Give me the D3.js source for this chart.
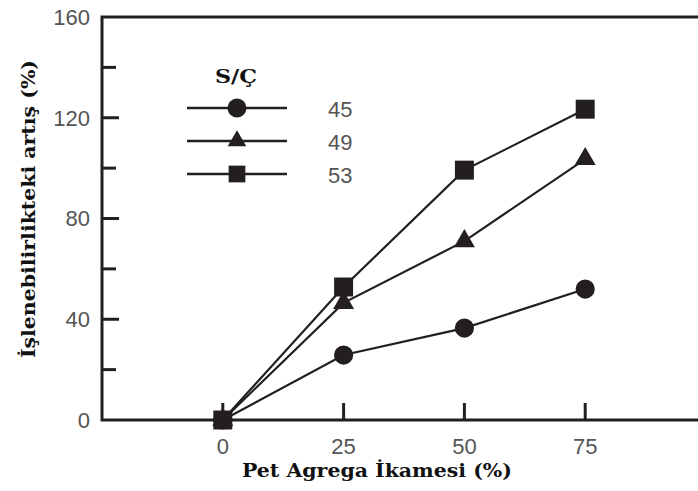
<html>
<head>
<meta charset="utf-8">
<script src="https://d3js.org/d3.v7.min.js"></script>
<style>
  body { margin: 0; background: #fff; }
</style>
</head>
<body>
<div id="chart"></div>
<script>
// data
var petLevels = [0, 25, 50, 75];
var seriesNames = ["45", "49", "53"];
var values45 = [0, 25.8, 36.5, 52.0];
var values49 = [0, 46.5, 71.0, 103.6];
var values53 = [0, 52.8, 99.2, 123.4];
var yTicks = [0, 40, 80, 120, 160];
var yMinorTicks = [20, 60, 100, 140];

var series = [
  { name: seriesNames[0], shape: d3.symbolCircle, values: values45 },
  { name: seriesNames[1], shape: d3.symbolTriangle, values: values49 },
  { name: seriesNames[2], shape: d3.symbolSquare, values: values53 }
];

var W = 698, H = 491;
var svg = d3.select("#chart").append("svg")
  .attr("width", W).attr("height", H);

var x = d3.scaleLinear().domain([-25, 100]).range([102, 706]);
var y = d3.scaleLinear().domain([0, 160]).range([420, 17]);

var ink = "#231f20";
var sans = "Liberation Sans, Arial, sans-serif";
var serif = "DejaVu Serif, Liberation Serif, serif";

// frame: left, top, bottom lines
svg.append("path")
  .attr("d", "M" + x(100) + "," + y(160) + "H" + x(-25) + "V" + y(0) + "H" + x(100))
  .attr("fill", "none").attr("stroke", ink).attr("stroke-width", 3);

// y ticks (inward)
svg.selectAll(".ymaj").data(yTicks.filter(function (d) { return d > 0 && d < 160; }))
  .enter().append("line")
  .attr("x1", x(-25)).attr("x2", x(-25) + 17)
  .attr("y1", function (d) { return y(d); }).attr("y2", function (d) { return y(d); })
  .attr("stroke", ink).attr("stroke-width", 3);
svg.selectAll(".ymin").data(yMinorTicks)
  .enter().append("line")
  .attr("x1", x(-25)).attr("x2", x(-25) + 14)
  .attr("y1", function (d) { return y(d); }).attr("y2", function (d) { return y(d); })
  .attr("stroke", ink).attr("stroke-width", 3);

svg.selectAll(".ylab").data(yTicks)
  .enter().append("text")
  .attr("x", 90).attr("y", function (d) { return y(d); })
  .attr("dy", "0.36em")
  .attr("text-anchor", "end")
  .style("font-family", sans)
  .style("font-size", "22px")
  .style("fill", "#555")
  .text(function (d) { return d; });

// x ticks (inward)
svg.selectAll(".xt").data(petLevels)
  .enter().append("line")
  .attr("x1", function (d) { return x(d); }).attr("x2", function (d) { return x(d); })
  .attr("y1", y(0)).attr("y2", y(0) - 17)
  .attr("stroke", ink).attr("stroke-width", 3);

svg.selectAll(".xlab").data(petLevels)
  .enter().append("text")
  .attr("x", function (d) { return x(d); }).attr("y", 454)
  .attr("text-anchor", "middle")
  .style("font-family", sans)
  .style("font-size", "22px")
  .style("fill", "#555")
  .text(function (d) { return d; });

// axis titles
svg.append("text")
  .attr("x", 377).attr("y", 477)
  .attr("text-anchor", "middle")
  .attr("textLength", 270)
  .attr("lengthAdjust", "spacingAndGlyphs")
  .style("font-family", serif)
  .style("font-weight", "bold")
  .style("font-size", "19px")
  .style("fill", "#111")
  .text("Pet Agrega İkamesi (%)");

svg.append("text")
  .attr("transform", "translate(35,209) rotate(-90)")
  .attr("text-anchor", "middle")
  .attr("textLength", 298)
  .attr("lengthAdjust", "spacingAndGlyphs")
  .style("font-family", serif)
  .style("font-weight", "bold")
  .style("font-size", "19px")
  .style("fill", "#111")
  .text("İşlenebilirlikteki artış (%)");

// lines
var line = d3.line()
  .x(function (d, i) { return x(petLevels[i]); })
  .y(function (d) { return y(d); });

svg.selectAll(".series").data(series)
  .enter().append("path")
  .attr("d", function (s) { return line(s.values); })
  .attr("fill", "none").attr("stroke", ink).attr("stroke-width", 2.2);

var sizes = { "45": 290, "49": 190, "53": 360 };

series.forEach(function (s) {
  svg.selectAll(null).data(s.values)
    .enter().append("path")
    .attr("transform", function (d, i) { return "translate(" + x(petLevels[i]) + "," + y(d) + ")"; })
    .attr("d", d3.symbol().type(s.shape).size(sizes[s.name]))
    .attr("fill", ink);
});

// legend
var legend = svg.append("g");
legend.append("text")
  .attr("x", 236).attr("y", 83)
  .attr("text-anchor", "middle")
  .attr("textLength", 42)
  .attr("lengthAdjust", "spacingAndGlyphs")
  .style("font-family", serif)
  .style("font-weight", "bold")
  .style("font-size", "19px")
  .style("fill", "#111")
  .text("S/Ç");

var legendY = [108, 141, 174];
series.forEach(function (s, i) {
  legend.append("line")
    .attr("x1", 187).attr("x2", 287)
    .attr("y1", legendY[i]).attr("y2", legendY[i])
    .attr("stroke", ink).attr("stroke-width", 2.5);
  legend.append("path")
    .attr("transform", "translate(237," + legendY[i] + ")")
    .attr("d", d3.symbol().type(s.shape).size(i === 1 ? 150 : 280))
    .attr("fill", ink);
  legend.append("text")
    .attr("x", 328).attr("y", legendY[i] + 1)
    .attr("dy", "0.36em")
    .style("font-family", sans)
    .style("font-size", "22px")
    .style("fill", "#555")
    .text(s.name);
});
</script>
</body>
</html>
